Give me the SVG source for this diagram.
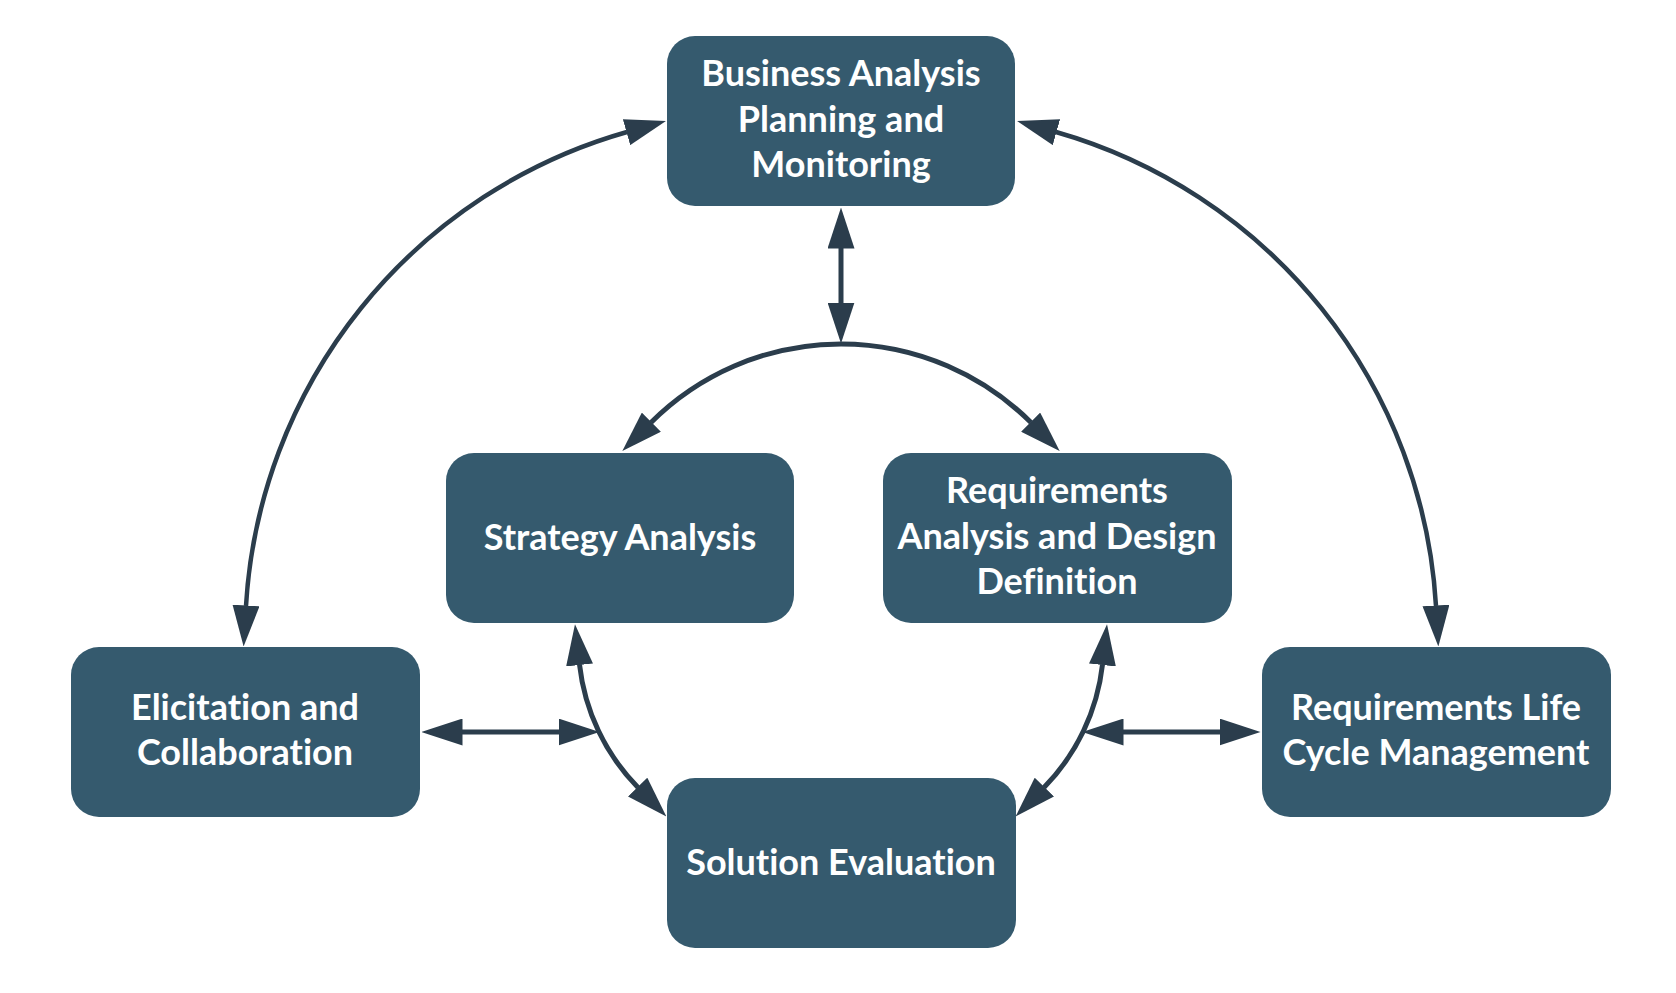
<svg xmlns="http://www.w3.org/2000/svg" width="1676" height="993" viewBox="0 0 1676 993">
  <style>
    .box { fill: #355a6e; }
    .lbl { fill: #ffffff; font-family: Lato, "Open Sans", sans-serif; font-weight: 700; font-size: 36px; text-anchor: middle; font-variant-ligatures: none; font-feature-settings: "liga" 0, "clig" 0; }
    .con { fill: none; stroke: #2b3d4c; stroke-width: 5; marker-start: url(#ah); marker-end: url(#ah); }
    .outer { stroke-width: 4.5; }
  </style>
  <defs>
    <marker id="ah" viewBox="0 0 41 27" refX="0.5" refY="13.5" markerWidth="41" markerHeight="27" markerUnits="userSpaceOnUse" orient="auto-start-reverse">
      <path d="M0,0 L41,13.5 L0,27 Z" fill="#2b3d4c"/>
    </marker>
  </defs>
  <rect width="1676" height="993" fill="#ffffff"/>

  <g id="connectors">
    <path class="con" d="M841,248 L841,303"/>
    <path class="con" d="M651,422.5 A269,269 0 0 1 1031,422.5"/>
    <path class="con outer" d="M246,606 A525,525 0 0 1 627,132"/>
    <path class="con outer" d="M1056,132 A525,525 0 0 1 1436,606"/>
    <path class="con" d="M579.5,664.5 A209,209 0 0 0 638,787.5"/>
    <path class="con" d="M1102.5,664.5 A209,209 0 0 1 1044,787.5"/>
    <path class="con" d="M462,732 L559,732"/>
    <path class="con" d="M1123,732 L1220,732"/>
  </g>

  <g id="node-planning">
    <rect class="box" x="667" y="36" width="348" height="170" rx="28"/>
    <text class="lbl" x="841" y="86">Business Analysis</text>
    <text class="lbl" x="841" y="132">Planning and</text>
    <text class="lbl" x="841" y="177">Monitoring</text>
  </g>
  <g id="node-strategy">
    <rect class="box" x="446" y="453" width="348" height="170" rx="28"/>
    <text class="lbl" x="620" y="550">Strategy Analysis</text>
  </g>
  <g id="node-radd">
    <rect class="box" x="883" y="453" width="349" height="170" rx="28"/>
    <text class="lbl" x="1057" y="503">Requirements</text>
    <text class="lbl" x="1057" y="549">Analysis and Design</text>
    <text class="lbl" x="1057" y="594">Definition</text>
  </g>
  <g id="node-elicitation">
    <rect class="box" x="71" y="647" width="349" height="170" rx="28"/>
    <text class="lbl" x="245" y="720">Elicitation and</text>
    <text class="lbl" x="245" y="765">Collaboration</text>
  </g>
  <g id="node-rlcm">
    <rect class="box" x="1262" y="647" width="349" height="170" rx="28"/>
    <text class="lbl" x="1436" y="720">Requirements Life</text>
    <text class="lbl" x="1436" y="765">Cycle Management</text>
  </g>
  <g id="node-solution">
    <rect class="box" x="667" y="778" width="349" height="170" rx="28"/>
    <text class="lbl" x="841" y="875">Solution Evaluation</text>
  </g>
</svg>
